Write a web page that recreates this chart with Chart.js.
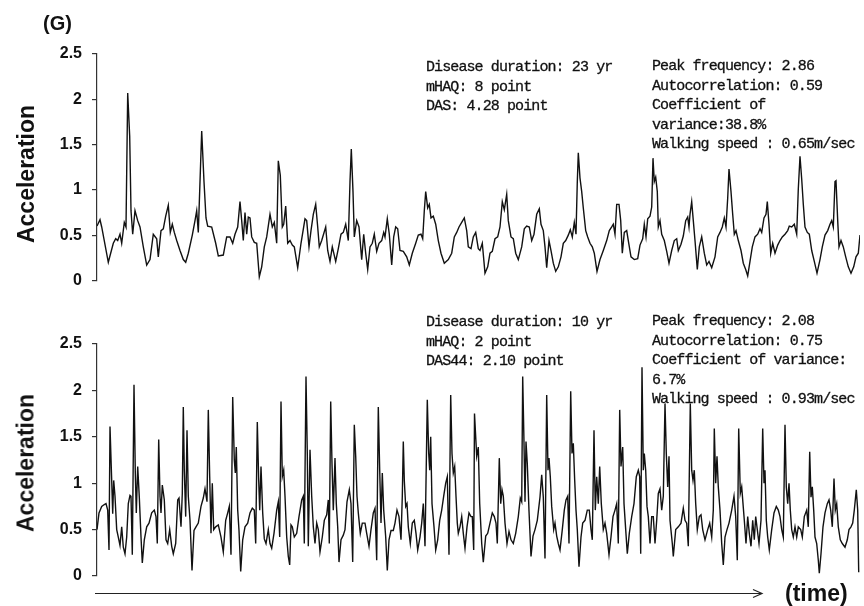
<!DOCTYPE html>
<html>
<head>
<meta charset="utf-8">
<script src="https://cdn.jsdelivr.net/npm/chart.js@4/dist/chart.umd.min.js"></script>
<style>
  html, body { margin: 0; padding: 0; background: #fff; }
  #page { position: relative; width: 864px; height: 606px; overflow: hidden; }
  .box { position: absolute; left: 0; width: 864px; }
  .txt { position: absolute; color: #111; white-space: pre; }
  .bold { font-family: "Liberation Sans", Arial, sans-serif; font-weight: bold; }
  .mono { font-family: "Liberation Mono", "DejaVu Sans Mono", monospace; font-size: 15px;
          line-height: 19.6px; letter-spacing: -0.9px; -webkit-text-stroke: 0.3px #111; }
  .ylab { font-size: 23px; transform: translate(-50%, -50%) rotate(-90deg); }
</style>
</head>
<body>
<div id="page">
  <div class="box" style="top:0;height:300px"><canvas id="topChart"></canvas></div>
  <div class="box" style="top:290px;height:316px"><canvas id="bottomChart"></canvas></div>

  <div class="txt bold" style="left:43px;top:12px;font-size:20px">(G)</div>
  <div class="txt bold ylab" style="left:26px;top:174px">Acceleration</div>
  <div class="txt bold ylab" style="left:26px;top:463px">Acceleration</div>

  <div class="txt mono" style="left:426px;top:58px">Disease duration: 23 yr
mHAQ: 8 point
DAS: 4.28 point</div>
  <div class="txt mono" style="left:652px;top:57px">Peak frequency: 2.86
Autocorrelation: 0.59
Coefficient of
variance:38.8%
Walking speed : 0.65m/sec</div>

  <div class="txt mono" style="left:426px;top:313px">Disease duration: 10 yr
mHAQ: 2 point
DAS44: 2.10 point</div>
  <div class="txt mono" style="left:652px;top:312px">Peak frequency: 2.08
Autocorrelation: 0.75
Coefficient of variance:
6.7%
Walking speed : 0.93m/sec</div>

  <div class="txt bold" style="left:785px;top:580px;font-size:23px">(time)</div>
</div>

<script>
// time in samples (arbitrary units), acceleration in G
const topTime = [
  0, 3, 4.7, 11.3, 16.3, 18.7, 20.7, 23, 24.7, 27.3, 29, 30.7, 32.7, 34, 35.7, 38, 40.7, 43, 46.3, 49.7,
  53, 56.3, 59.7, 61.3, 64, 66.3, 68.7, 71.3, 73.3, 75.3, 77.3, 79.7, 83, 86.3, 88.7, 91.3, 95.3, 98, 99.7, 101.3,
  103, 104.7, 107, 109, 110.7, 114.7, 118.7, 121.3, 126.3, 129.7, 133, 135.7, 138, 140.7, 143, 144.7, 146.3, 148, 149.7, 151.3,
  153, 154.7, 157.3, 159.7, 162.3, 164.7, 167.3, 169.7, 173, 175.3, 177.3, 179.7, 181.3, 183.3, 185.3, 186.7, 188.7,
  190.7, 193, 195.3, 197.3, 200.7, 204, 208, 209.7, 212, 214, 216.3, 218.7, 220.7, 222.3, 224.7, 228.7, 230.7, 233, 235.3, 238.7,
  241.3, 244, 246.3, 248.7, 251.3, 253, 254.3, 256, 257.3, 259.7, 262, 264.7, 266.7, 268.7, 270.7, 273, 275.3, 277.3, 279.7, 282,
  284.7, 286.7, 288, 290.3, 292.3, 294.7, 296.7, 298.7, 300.7, 303, 306.3, 309.7, 312.3, 315.3, 318.7, 321.3, 324, 325.7, 327.3, 328.7,
  330.7, 332.3, 334, 336.3, 338.7, 341.3, 344, 347.3, 351.3, 354.7, 357.3, 359.7, 362, 364.7, 367.3, 369.7, 371.3, 374, 376.3, 378.7,
  381.3, 383, 385.3, 388, 390.7, 393, 395.3, 398, 400.7, 403, 405.3, 407.3, 409.7, 411.3, 414, 416.3, 418.7, 421.3, 424.7, 427.3,
  429.7, 432.3, 434.7, 437, 439.7, 442.3, 444, 446.3, 448, 449.7, 452, 454, 456.3, 458.7, 461.3, 464, 466.3, 468.7, 471.3, 473.3,
  475.3, 477.3, 479, 480.3, 481.3, 483, 484.7, 486.3, 488.7, 490.7, 493, 495.3, 497.3, 500, 503, 506.3, 509.7, 512.3, 514.7, 516.3,
  518, 519.7, 522, 523.7, 525.3, 527.3, 529.7, 531.3, 534, 537.3, 540.7, 543, 545.7, 547.3, 549, 550.7, 553, 554.7, 556, 557.3,
  558.7, 560.3, 561.3, 563, 564.7, 567.3, 569.7, 572, 574.7, 577.3, 579.7, 581.3, 584, 586.3, 588.7, 590.7, 592, 593, 594.7, 596.3,
  598, 600.3, 602.3, 604.7, 607.3, 609.7, 612, 614.7, 618, 620.7, 623, 625.3, 627.3, 629, 630.7, 632, 634, 635.7, 637.3, 639,
  641.3, 644, 646.3, 648.7, 650.7, 653, 655.3, 658, 660.7, 663, 664.7, 667, 669, 670.3, 672, 673.7, 675.7, 678, 680.7, 683,
  685.3, 688, 690.7, 692.3, 694.7, 697.3, 699.7, 701.3, 703, 704.7, 706.3, 708, 710.3, 712.3, 714.7, 717.3, 720, 723, 725.3, 728,
  730.7, 733, 734.7, 736.3, 738, 739, 740.7, 742, 744, 746.3, 748.7, 751.3, 754, 756.7, 759, 761.3, 763
];
const topAccel = [
  0.60, 0.67, 0.59, 0.20, 0.41, 0.46, 0.44, 0.51, 0.41, 0.64, 0.59, 2.07, 1.59, 0.77, 0.51, 0.77, 0.66, 0.59, 0.37, 0.17,
  0.23, 0.51, 0.46, 0.26, 0.55, 0.57, 0.71, 0.83, 0.53, 0.62, 0.53, 0.44, 0.33, 0.23, 0.20, 0.30, 0.50, 0.66, 0.77, 0.53,
  1.09, 1.65, 1.09, 0.69, 0.60, 0.59, 0.41, 0.27, 0.28, 0.48, 0.48, 0.41, 0.51, 0.59, 0.87, 0.66, 0.44, 0.75, 0.51, 0.70,
  0.69, 0.48, 0.42, 0.41, 0.04, 0.15, 0.37, 0.48, 0.73, 0.59, 0.64, 0.41, 1.32, 1.16, 0.59, 0.62, 0.82,
  0.41, 0.44, 0.39, 0.37, 0.14, 0.41, 0.68, 0.66, 0.37, 0.55, 0.73, 0.84, 0.59, 0.37, 0.44, 0.59, 0.33, 0.21, 0.37, 0.21,
  0.35, 0.51, 0.53, 0.62, 0.44, 1.09, 1.45, 0.98, 0.48, 0.66, 0.59, 0.23, 0.51, 0.30, 0.12, 0.37, 0.41, 0.51, 0.32, 0.41,
  0.44, 0.53, 0.48, 0.68, 0.51, 0.17, 0.48, 0.59, 0.57, 0.33, 0.32, 0.26, 0.17, 0.30, 0.41, 0.50, 0.51, 0.46, 0.77, 0.98,
  0.80, 0.84, 0.69, 0.71, 0.62, 0.44, 0.30, 0.19, 0.23, 0.30, 0.48, 0.53, 0.59, 0.64, 0.69, 0.55, 0.37, 0.35, 0.48, 0.53,
  0.35, 0.33, 0.41, 0.08, 0.15, 0.30, 0.32, 0.46, 0.48, 0.59, 0.87, 0.78, 0.95, 0.66, 0.48, 0.46, 0.30, 0.23, 0.37, 0.57,
  0.60, 0.59, 0.44, 0.51, 0.73, 0.79, 0.62, 0.55, 0.37, 0.14, 0.44, 0.33, 0.19, 0.10, 0.15, 0.26, 0.41, 0.44, 0.50, 0.56,
  0.48, 0.64, 0.51, 1.09, 1.41, 1.13, 0.98, 0.80, 0.55, 0.48, 0.41, 0.37, 0.30, 0.10, 0.23, 0.33, 0.44, 0.55, 0.59, 0.62,
  0.51, 0.84, 0.84, 0.66, 0.30, 0.53, 0.55, 0.44, 0.26, 0.23, 0.24, 0.39, 0.46, 0.62, 0.48, 0.68, 0.71, 0.81, 1.35, 1.09,
  1.14, 0.98, 0.59, 0.66, 0.51, 0.44, 0.32, 0.19, 0.33, 0.44, 0.46, 0.33, 0.40, 0.49, 0.66, 0.70, 0.59, 0.73, 0.87, 0.66,
  0.44, 0.12, 0.37, 0.48, 0.30, 0.17, 0.21, 0.14, 0.26, 0.48, 0.53, 0.59, 0.69, 0.59, 0.91, 1.23, 0.98, 0.73, 0.51, 0.55,
  0.44, 0.33, 0.19, 0.12, 0.05, 0.21, 0.37, 0.48, 0.51, 0.57, 0.53, 0.69, 0.73, 0.87, 0.62, 0.30, 0.41, 0.30, 0.39, 0.44,
  0.48, 0.51, 0.55, 0.60, 0.59, 0.62, 0.51, 1.01, 1.37, 1.12, 0.84, 0.59, 0.53, 0.51, 0.33, 0.21, 0.08, 0.23, 0.37, 0.50,
  0.55, 0.62, 0.66, 0.59, 1.09, 1.10, 0.66, 0.37, 0.44, 0.37, 0.26, 0.15, 0.08, 0.15, 0.26, 0.30, 0.50
];

const bottomTime = [
  0, 2, 4.7, 7.3, 9, 10.7, 12, 13, 14.7, 15.7, 16.7, 18, 19.7, 21.3, 23, 24.7, 26.3, 28, 29.7, 31.3,
  33, 34, 35.3, 37, 38.3, 39.3, 40.7, 42.3, 44, 45.3, 47.3, 49.7, 52, 54.7, 57.3, 59, 60.3, 61.7, 63, 64,
  65.3, 67.3, 69, 70.7, 72.7, 74.7, 76.3, 78.7, 80.7, 82, 84, 85.3, 86.3, 87.3, 88.7, 90, 91.3, 93, 95, 97,
  99, 101.3, 104, 106.3, 108, 110, 111.3, 112.7, 114, 115.3, 116.7, 118.7, 121.3, 124, 126.3, 128.7, 130.7, 132.3, 134, 135.7,
  137.3, 138.3, 139.3, 140.7, 142, 143.7, 145.7, 148, 150.7, 153, 155.3, 157.3, 158.7, 160.3, 161.7, 162.7, 164, 165.7, 167.3, 169,
  171.3, 173, 174.7, 177, 179.7, 181.3, 182.7, 184, 185.3, 186.7, 188, 189.7, 191.3, 192.7, 194, 195.3, 197.3, 199.7, 202, 204.7,
  206.3, 207.3, 209, 210.3, 211.3, 213, 214.7, 216.3, 218, 219.7, 221.3, 223, 225.3, 227.3, 229.7, 231.3, 232.3, 233.7, 235, 236.3,
  238, 239.3, 240.7, 242, 244, 246.3, 248, 250, 252.3, 254, 255.7, 257.3, 258.7, 260, 261.3, 263.3, 265.3, 268, 269.7, 272,
  274, 276.3, 278, 279.7, 281.3, 282.7, 284, 285.3, 286.7, 288.7, 290.3, 292, 294, 296.3, 298, 300, 302, 304, 305.3, 306.3,
  307.3, 308.7, 310, 311.3, 313.3, 315.3, 317.3, 319, 320.7, 323, 324.7, 326.3, 328, 330.3, 331.7, 332.7, 333.7, 335, 337, 338.7,
  340.7, 342.7, 344.7, 346.7, 348.7, 350.3, 352, 353.7, 355, 356.3, 357.7, 359, 360.3, 361.3, 363, 364.7, 366.3, 368, 370, 372,
  374, 375.3, 376.7, 377.5, 379.7, 381.3, 382.7, 384.7, 386.3, 388.7, 390.7, 393, 395.3, 397.3, 399, 400.3, 402.3, 403.7, 405, 406.3,
  408, 410, 412, 414, 416.3, 418.7, 421.3, 423.3, 424.7, 425.7, 427, 428, 429, 430.3, 432, 434, 436, 438, 440.3, 443,
  444.7, 446.3, 448, 449.7, 451, 452, 453.3, 454.7, 456.7, 458, 459.7, 461.3, 463, 465.3, 467.3, 469, 470.7, 472, 473.7, 475,
  476.3, 477.7, 479, 480.3, 482, 484, 485.7, 488, 490.3, 492.3, 494, 495.3, 497, 498.3, 499.7, 501.3, 502.7, 504.3, 506.3, 508,
  509.7, 512, 514, 516, 518, 519.7, 521.3, 522.7, 524, 525.7, 527, 528.7, 530.3, 532.3, 534.7, 537, 539.3, 541.3, 542.7, 543.7,
  545, 546.3, 547.3, 548.7, 550, 551.3, 553, 554.7, 556.3, 558, 559.7, 561.3, 563, 564.7, 566.3, 568, 569.3, 570.7, 572, 573,
  575.3, 576.3, 578.7, 581.3, 584, 586.3, 588, 589.7, 591.3, 593.3, 594.7, 596, 597.3, 598.7, 600.3, 602.3, 604, 605.7, 608, 610.7,
  612.7, 614.7, 616.3, 617.3, 618.7, 620, 621.3, 623, 624.7, 626.3, 628, 630, 632, 634.7, 637, 638.7, 640.3, 641.7, 643.3, 644.7,
  646, 647.3, 649, 650.7, 652.3, 654, 655.7, 657.3, 658.7, 660.3, 662, 664, 665.7, 667, 668, 669.3, 670.7, 672.3, 674.7, 677,
  679.3, 681.3, 683, 684.7, 686.3, 688, 689.3, 690.7, 692, 693.3, 694.7, 696.3, 698, 699.7, 701.3, 703.7, 705.3, 707.3, 709.7, 711.3,
  712.7, 714, 715.3, 716.7, 718, 719.7, 721.3, 722.3, 724, 726, 728, 730.3, 732, 733.7, 735.3, 737, 738.3, 739.7, 741.3, 743.3,
  745.3, 748, 750.3, 752, 754, 755.7, 757.3, 759.3, 760.7, 761.7
];
const bottomAccel = [
  0.50, 0.68, 0.75, 0.77, 0.78, 0.71, 0.28, 1.61, 1.03, 0.67, 1.03, 0.86, 0.50, 0.42, 0.33, 0.53, 0.31, 0.24, 0.42, 0.78,
  0.87, 0.86, 0.23, 2.06, 1.11, 0.68, 1.18, 0.85, 0.42, 0.14, 0.39, 0.53, 0.57, 0.68, 0.71, 0.64, 0.35, 1.47, 0.86, 0.68,
  0.98, 0.82, 0.39, 0.35, 0.50, 0.32, 0.24, 0.35, 0.82, 0.84, 0.53, 0.89, 1.82, 1.14, 0.64, 1.57, 0.86, 0.60, 0.06, 0.49,
  0.53, 0.57, 0.75, 0.84, 0.94, 0.80, 1.79, 1.07, 0.46, 1.00, 0.50, 0.53, 0.55, 0.42, 0.26, 0.60, 0.68, 0.75, 0.23, 1.93,
  1.25, 1.11, 1.39, 0.71, 0.49, 0.05, 0.39, 0.53, 0.57, 0.68, 0.73, 0.71, 0.35, 1.66, 1.03, 0.71, 1.18, 0.68, 0.40, 0.35,
  0.50, 0.35, 0.30, 0.46, 0.71, 0.80, 0.42, 1.88, 1.07, 1.14, 0.86, 0.42, 0.21, 0.12, 0.55, 0.53, 0.42, 0.46, 0.64, 0.82,
  0.86, 0.35, 2.15, 1.32, 0.32, 1.36, 0.86, 0.53, 0.35, 0.57, 0.50, 0.26, 0.42, 0.60, 0.66, 0.82, 0.35, 1.88, 1.21, 0.71,
  1.27, 0.78, 0.53, 0.15, 0.39, 0.44, 0.50, 0.80, 0.93, 0.78, 0.15, 1.63, 1.29, 0.86, 0.68, 0.46, 0.57, 0.57, 0.46, 0.32,
  0.50, 0.68, 0.73, 0.17, 1.82, 1.14, 0.57, 1.11, 0.71, 0.42, 0.06, 0.39, 0.49, 0.49, 0.57, 0.71, 0.64, 0.39, 0.86, 1.45,
  1.03, 0.75, 0.78, 0.53, 0.35, 0.57, 0.60, 0.46, 0.28, 0.42, 0.57, 0.78, 0.32, 1.90, 1.32, 1.14, 1.50, 0.78, 0.53, 0.28,
  0.39, 0.60, 0.71, 0.86, 1.00, 1.07, 0.23, 1.95, 1.32, 1.11, 1.18, 0.86, 0.57, 0.46, 0.53, 0.64, 0.46, 0.30, 0.53, 0.68,
  0.64, 0.64, 0.28, 1.75, 1.29, 1.39, 0.78, 0.35, 0.15, 0.43, 0.46, 0.57, 0.68, 0.64, 0.57, 0.35, 1.27, 0.78, 0.93, 0.86,
  0.57, 0.35, 0.48, 0.39, 0.35, 0.46, 0.64, 0.84, 0.80, 2.15, 1.43, 0.80, 1.45, 1.21, 0.70, 0.21, 0.43, 0.50, 0.60, 0.85,
  1.09, 0.85, 0.19, 1.95, 1.14, 1.27, 1.07, 0.75, 0.50, 0.57, 0.43, 0.35, 0.28, 0.50, 0.71, 0.82, 0.86, 0.35, 1.99, 1.32,
  1.43, 1.03, 0.71, 0.50, 0.10, 0.42, 0.57, 0.60, 0.71, 0.71, 0.50, 0.39, 1.57, 0.71, 1.07, 0.78, 1.18, 0.78, 0.50, 0.57,
  0.46, 0.23, 0.42, 0.64, 0.71, 0.78, 0.35, 1.79, 1.18, 1.39, 0.78, 0.50, 0.24, 0.46, 0.64, 0.78, 1.07, 1.14, 1.07, 0.24,
  2.25, 1.14, 1.32, 1.14, 0.75, 0.64, 0.35, 0.64, 0.64, 0.35, 0.60, 0.89, 0.94, 0.71, 0.86, 1.86, 1.32, 0.96, 1.29, 0.60,
  0.35, 0.21, 0.50, 0.53, 0.57, 0.73, 0.60, 0.57, 0.32, 1.86, 1.14, 1.03, 1.14, 0.78, 0.50, 0.64, 0.66, 0.50, 0.39, 0.50,
  0.57, 0.42, 0.71, 1.59, 1.00, 1.29, 0.96, 0.71, 0.35, 0.12, 0.42, 0.50, 0.57, 0.71, 0.86, 0.64, 0.17, 1.59, 0.89, 0.96,
  0.78, 0.60, 0.35, 0.64, 0.46, 0.32, 0.60, 0.39, 0.64, 0.50, 0.35, 0.60, 1.59, 1.00, 1.14, 0.60, 0.42, 0.28, 0.50, 0.68,
  0.75, 0.71, 0.64, 0.50, 0.42, 1.63, 0.96, 0.78, 1.00, 0.71, 0.50, 0.42, 0.53, 0.42, 0.53, 0.50, 0.42, 0.64, 0.71, 0.53,
  1.34, 0.85, 0.96, 0.71, 0.42, 0.35, 0.17, 0.03, 0.24, 0.53, 0.68, 0.78, 0.82, 0.71, 0.53, 1.05, 0.71, 0.78, 0.53, 0.39,
  0.35, 0.31, 0.39, 0.50, 0.53, 0.57, 0.71, 0.93, 0.71, 0.04
];

const yTicks = [0, 0.5, 1, 1.5, 2, 2.5];
const fontBold = { family: '"Liberation Sans", Arial, sans-serif', size: 16, weight: 'bold' };

function toPoints(times, values) {
  return times.map((t, i) => ({ x: t, y: values[i] }));
}

// horizontal time arrow under the lower panel
const timeArrow = {
  id: 'timeArrow',
  afterDraw(chart) {
    const { ctx, chartArea } = chart;
    const y = chartArea.bottom + 17.5;
    const xEnd = 762;
    ctx.save();
    ctx.strokeStyle = '#222';
    ctx.lineWidth = 1.2;
    ctx.beginPath();
    ctx.moveTo(chartArea.left - 2, y);
    ctx.lineTo(xEnd, y);
    ctx.moveTo(xEnd - 9, y - 4);
    ctx.lineTo(xEnd, y);
    ctx.lineTo(xEnd - 9, y + 4);
    ctx.stroke();
    ctx.restore();
  }
};

function makeChart(id, times, values, padding, plugins) {
  const ctx = document.getElementById(id).getContext('2d');
  return new Chart(ctx, {
    type: 'line',
    data: {
      datasets: [{
        data: toPoints(times, values),
        borderColor: '#111',
        borderWidth: 1.4,
        pointRadius: 0,
        tension: 0,
        fill: false
      }]
    },
    options: {
      responsive: true,
      maintainAspectRatio: false,
      animation: false,
      layout: { padding: padding },
      plugins: { legend: { display: false }, tooltip: { enabled: false } },
      scales: {
        x: { type: 'linear', min: 0, max: 763, display: false },
        y: {
          min: 0,
          max: 2.5,
          afterBuildTicks(scale) { scale.ticks = yTicks.map(v => ({ value: v })); },
          afterFit(scale) { scale.width = 97; },
          ticks: { font: fontBold, color: '#111', padding: 10, callback: v => String(v) },
          grid: { drawOnChartArea: false, tickLength: 5, color: '#333', lineWidth: 1.2 },
          border: { color: '#333', width: 1.2 }
        }
      }
    },
    plugins: plugins
  });
}

makeChart('topChart', topTime, topAccel, { top: 54, bottom: 14, left: 0, right: 4 }, []);
makeChart('bottomChart', bottomTime, bottomAccel, { top: 54, bottom: 30, left: 0, right: 4 }, [timeArrow]);
</script>
</body>
</html>
